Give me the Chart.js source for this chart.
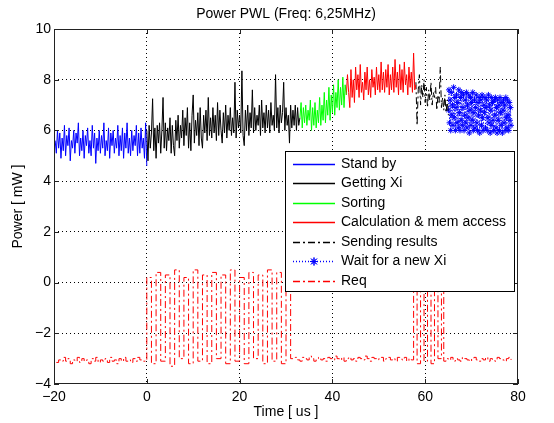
<!DOCTYPE html>
<html>
<head>
<meta charset="utf-8">
<script src="https://cdn.jsdelivr.net/npm/chart.js@4.4.1/dist/chart.umd.min.js"></script>
<style>
html, body { margin: 0; padding: 0; background: #fff; }
</style>
</head>
<body>
<canvas id="c" width="554" height="423"></canvas>
<script>
// les données
var titre = 'Power PWL (Freq: 6,25MHz)';
var labels = ['Stand by', 'Getting Xi', 'Sorting', 'Calculation & mem access', 'Sending results', 'Wait for a new Xi', 'Req'];
var xTicks = [-20, 0, 20, 40, 60, 80];
var yTicks = [-4, -2, 0, 2, 4, 6, 8, 10];

// stand by : -19.75 .. 0, pas 0.25
var standbyT0 = -19.75, standbyDt = 0.25;
var standby = [5.6, 5.1, 6.0, 5.3, 5.9, 4.9, 5.7, 5.2, 6.2, 5.0,
               5.8, 5.4, 6.1, 4.8, 5.6, 5.3, 6.0, 5.1, 5.9, 5.5,
               6.3, 5.0, 5.7, 5.2, 6.0, 4.9, 5.8, 5.4, 6.1, 5.1,
               5.6, 5.0, 6.2, 5.3, 5.9, 4.7, 5.7, 5.2, 6.0, 5.1,
               5.8, 5.3, 6.3, 5.0, 5.6, 5.2, 6.1, 4.9, 5.9, 5.4,
               6.0, 5.1, 5.7, 5.3, 6.2, 5.0, 5.8, 5.2, 6.1, 4.9,
               5.9, 5.3, 6.3, 5.1, 5.7, 5.0, 6.0, 5.2, 5.8, 5.4,
               6.2, 5.0, 5.9, 5.1, 6.1, 5.3, 5.7, 4.9, 6.3, 4.6];

// getting Xi : 0 .. 33, pas 0.25
var gettingT0 = 0, gettingDt = 0.25;
var getting = [6.0, 4.8, 6.2, 5.3, 5.9, 7.25, 5.2, 6.1,
               4.9, 6.2, 5.5, 6.3, 5.1, 6.0, 7.3, 5.3,
               6.3, 5.2, 6.1, 5.6, 6.5, 5.1, 6.2, 5.4,
               5.0, 6.4, 5.6, 6.6, 5.3, 6.2, 5.7, 6.8,
               5.4, 6.5, 5.8, 6.9, 5.3, 6.3, 5.2, 6.6,
               7.4, 5.5, 6.4, 5.8, 6.7, 5.4, 6.9, 5.7,
               5.3, 6.6, 5.9, 6.8, 5.6, 7.3, 5.8, 6.5,
               5.7, 6.9, 5.9, 6.6, 5.6, 7.1, 5.8, 6.8,
               6.0, 5.5, 6.7, 5.9, 7.0, 5.7, 6.6, 6.0,
               6.9, 5.8, 6.5, 5.9, 7.9, 5.7, 6.8, 6.1,
               6.6, 5.9, 8.35, 5.8, 5.4, 6.8, 6.0, 7.0,
               5.8, 6.7, 6.1, 7.6, 5.9, 6.9, 6.0, 6.6,
               6.2, 7.0, 5.8, 7.2, 6.1, 6.7, 5.9, 7.0,
               6.1, 6.8, 5.9, 7.1, 6.2, 6.6, 6.0, 8.2,
               6.1, 6.9, 5.9, 7.0, 6.3, 6.7, 7.9, 6.0,
               6.9, 6.2, 6.6, 5.5, 7.0, 6.1, 6.8, 6.2,
               7.0, 6.0, 6.9, 6.2, 6.5];

// sorting : 33 .. 43, pas 0.25
var sortingT0 = 33, sortingDt = 0.25;
var sorting = [6.5, 7.1, 6.1, 6.9, 6.3, 7.0, 6.2, 6.8,
               6.4, 7.2, 6.0, 6.9, 6.2, 7.1, 6.1, 6.8,
               6.3, 7.3, 6.2, 7.0, 6.4, 7.5, 6.3, 7.2,
               6.6, 7.7, 6.4, 7.4, 6.7, 7.8, 6.6, 7.5,
               6.9, 8.0, 6.8, 7.7, 7.0, 8.1, 6.9, 7.8,
               7.4];

// calculation & mem access : 43 .. 58, pas 0.25
var calcT0 = 43, calcDt = 0.25;
var calc = [7.4, 8.2, 7.5, 6.9, 8.4, 7.3, 8.0, 7.1,
            8.5, 7.6, 8.2, 7.3, 8.6, 7.5, 7.9, 7.2,
            8.3, 7.6, 8.5, 7.4, 8.0, 7.3, 8.4, 7.7,
            8.1, 7.4, 8.5, 7.6, 8.2, 7.5, 8.7, 7.6,
            8.3, 7.5, 8.4, 7.7, 8.6, 7.4, 8.2, 7.6,
            8.5, 7.5, 8.8, 7.7, 8.3, 7.4, 8.6, 7.6,
            8.4, 7.5, 8.7, 7.8, 8.2, 7.4, 8.5, 7.7,
            8.3, 7.5, 9.05, 7.6, 7.8];

// sending results : 58 .. 65, pas 0.25
var sendingT0 = 58, sendingDt = 0.25;
var sending = [7.9, 6.2, 7.6, 8.2, 7.0, 7.8, 7.3, 8.0,
               7.1, 7.7, 6.9, 7.6, 7.2, 7.9, 7.0, 7.5,
               7.3, 7.7, 6.8, 7.4, 7.1, 8.5, 6.9, 7.3,
               6.8, 7.4, 6.7, 7.2, 6.6];

// wait for a new Xi : 65 .. 78.5, pas 0.125
var waitT0 = 65, waitDt = 0.125;
var wait = [6.8, 7.6, 6.3, 7.2, 6.0, 7.5, 6.6, 7.0,
            6.2, 7.7, 6.5, 7.3, 6.0, 6.9, 7.4, 6.3,
            7.1, 6.1, 7.6, 6.7, 6.0, 7.3, 6.4, 7.5,
            6.2, 6.9, 7.4, 6.0, 6.6, 7.2, 6.3, 7.5,
            6.1, 7.0, 6.5, 7.4, 5.9, 6.8, 7.3, 6.2,
            7.1, 6.4, 7.5, 6.0, 6.7, 7.2, 6.1, 6.9,
            7.4, 6.3, 6.0, 7.1, 6.6, 7.3, 5.9, 6.8,
            7.2, 6.2, 7.4, 6.5, 6.0, 7.0, 6.7, 7.3,
            6.1, 6.9, 7.2, 6.0, 6.5, 7.4, 6.3, 7.0,
            5.9, 6.8, 7.3, 6.2, 7.1, 6.4, 6.0, 7.2,
            6.6, 7.3, 6.1, 6.9, 5.9, 7.2, 6.4, 7.0,
            6.0, 7.3, 6.7, 6.2, 7.1, 5.9, 6.8, 7.2,
            6.3, 7.0, 6.0, 7.3, 6.5, 6.1, 7.2, 6.6,
            6.0, 7.1, 6.4, 6.9, 6.2];

// req (signal en créneaux)
var reqBase1T0 = -19.5, reqBase1Dt = 0.5;
var reqBase1 = [-3.15, -3.05, -3.1, -2.95, -3.1, -3.0, -3.2, -3.05, -3.1, -2.95,
                -3.15, -3.0, -3.1, -3.05, -3.2, -3.0, -3.1, -2.95, -3.15, -3.05,
                -3.1, -3.0, -3.15, -2.95, -3.1, -3.05, -3.2, -3.0, -3.1, -2.95,
                -3.1, -3.05, -3.15, -3.0, -3.1, -2.95, -3.05, -3.1];
var reqBurst1T0 = 0, reqBurst1Dt = 1;
var reqBurst1 = [0.2, -3.2, 0.4, -3.1, 0.3, -3.3, 0.5, -3.0, 0.2, -3.2, 0.5, -3.1, 0.3, -3.2, 0.4, -3.0,
                 0.3, -3.2, 0.5, -3.1, 0.2, -3.2, 0.4, -3.0, 0.3, -3.2, 0.5, -3.1, 0.4, -3.2, 0.3, -3.0];
var reqBase2T0 = 31.5, reqBase2Dt = 0.5;
var reqBase2 = [-3.0, -2.95, -3.05, -3.1, -2.95, -3.0, -3.05, -2.9, -3.0, -3.1,
                -3.0, -2.95, -3.05, -3.0, -3.1, -2.95, -3.0, -3.05, -2.9, -3.0,
                -3.05, -2.95, -3.1, -3.0, -2.95, -3.05, -3.0, -3.1, -2.95, -3.0,
                -3.05, -2.9, -3.0, -3.1, -2.95, -3.0, -3.05, -3.0, -2.95, -3.1,
                -3.0, -2.95, -3.05, -3.0, -3.1, -2.95, -3.0, -3.05, -2.95, -3.1, -3.0, -3.05];
var reqBurst2T0 = 57.5, reqBurst2Dt = 0.75;
var reqBurst2 = [0.3, -3.2, 0.4, -3.1, 0.2, -3.2, 0.3, -3.0, 0.4];
var reqBase3T0 = 64, reqBase3Dt = 0.5;
var reqBase3 = [-3.1, -3.0, -3.05, -2.95, -3.1, -3.0, -3.05, -3.1, -2.95, -3.0,
                -3.05, -3.1, -3.0, -2.95, -3.05, -3.1, -3.0, -3.05, -2.95, -3.1,
                -3.0, -3.05, -3.1, -2.95, -3.0, -3.05, -3.1, -3.0, -2.95, -3.05];

var police = '"Liberation Sans", Arial, Helvetica, sans-serif';
Chart.defaults.font.family = police;
Chart.defaults.font.size = 14;
Chart.defaults.color = '#000';

//les fonctions
function serie (t0, dt, vals) {
    var pts = [];
    for (var i = 0; i < vals.length; i++) {
        pts.push({x: t0 + i * dt, y: vals[i]});
    }
    return pts;
}

function moins (v) {
    return String(v).replace('-', '\u2212');
}

var req = [].concat(
    serie(reqBase1T0, reqBase1Dt, reqBase1),
    serie(reqBurst1T0, reqBurst1Dt, reqBurst1),
    serie(reqBase2T0, reqBase2Dt, reqBase2),
    serie(reqBurst2T0, reqBurst2Dt, reqBurst2),
    serie(reqBase3T0, reqBase3Dt, reqBase3)
);

var pointille = [7, 3, 2, 3];

var datasets = [
    {label: labels[0], data: serie(standbyT0, standbyDt, standby), borderColor: '#0000ff'},
    {label: labels[1], data: serie(gettingT0, gettingDt, getting), borderColor: '#000000'},
    {label: labels[2], data: serie(sortingT0, sortingDt, sorting), borderColor: '#00ff00'},
    {label: labels[3], data: serie(calcT0, calcDt, calc), borderColor: '#ff0000'},
    {label: labels[4], data: serie(sendingT0, sendingDt, sending), borderColor: '#000000', borderDash: pointille},
    {label: labels[5], data: serie(waitT0, waitDt, wait), borderColor: '#0000ff', borderDash: [1, 2],
        pointStyle: 'star', pointRadius: 3, pointBorderColor: '#0000ff', pointBorderWidth: 1},
    {label: labels[6], data: req, borderColor: '#ff0000', borderDash: pointille, stepped: true}
];
datasets.forEach(function (d) {
    d.borderWidth = 1;
    d.fill = false;
    d.tension = 0;
    if (d.pointRadius === undefined) d.pointRadius = 0;
});

// cadre + graduations intérieures + légende (style matlab)
var cadre = {
    id: 'cadre',
    afterDraw: function (chart) {
        var ctx = chart.ctx, a = chart.chartArea;
        var sx = chart.scales.x, sy = chart.scales.y;
        ctx.save();
        ctx.strokeStyle = '#222';
        ctx.lineWidth = 1;
        ctx.setLineDash([]);
        ctx.strokeRect(a.left + 0.5, a.top + 0.5, a.right - a.left - 1, a.bottom - a.top - 1);
        ctx.beginPath();
        xTicks.forEach(function (v) {
            var px = Math.round(sx.getPixelForValue(v)) + 0.5;
            ctx.moveTo(px, a.bottom); ctx.lineTo(px, a.bottom - 5);
            ctx.moveTo(px, a.top); ctx.lineTo(px, a.top + 5);
        });
        yTicks.forEach(function (v) {
            var py = Math.round(sy.getPixelForValue(v)) + 0.5;
            ctx.moveTo(a.left, py); ctx.lineTo(a.left + 5, py);
            ctx.moveTo(a.right, py); ctx.lineTo(a.right - 5, py);
        });
        ctx.stroke();

        //légende
        var bx = 285.5, by = 151.5, bw = 229, bh = 140;
        ctx.fillStyle = '#fff';
        ctx.fillRect(bx, by, bw, bh);
        ctx.strokeStyle = '#000';
        ctx.strokeRect(bx, by, bw, bh);
        ctx.font = '14px ' + police;
        ctx.textBaseline = 'middle';
        ctx.textAlign = 'left';
        chart.data.datasets.forEach(function (d, i) {
            var y = Math.round(by + 12 + i * 19.5) + 0.5;
            ctx.strokeStyle = d.borderColor;
            ctx.lineWidth = 1.3;
            ctx.setLineDash(d.borderDash || []);
            ctx.beginPath();
            ctx.moveTo(293, y); ctx.lineTo(335, y);
            ctx.stroke();
            ctx.setLineDash([]);
            ctx.lineWidth = 1;
            if (d.pointStyle) {
                Chart.helpers.drawPoint(ctx, {pointStyle: d.pointStyle, radius: 4, borderWidth: 1}, 314, y);
                ctx.stroke();
            }
            ctx.fillStyle = '#000';
            ctx.fillText(d.label, 341, y);
        });
        ctx.restore();
    }
};

function grille (c) {
    var v = c.tick ? c.tick.value : null;
    return (v === -20 || v === 80 || v === -4 || v === 10) ? 'rgba(0,0,0,0)' : '#000';
}

var chart = new Chart(document.getElementById('c').getContext('2d'), {
    type: 'line',
    data: {datasets: datasets},
    options: {
        responsive: false,
        animation: false,
        events: [],
        layout: {padding: {left: 0, right: 36, top: 0, bottom: 0}},
        plugins: {
            legend: {display: false},
            tooltip: {enabled: false},
            title: {
                display: true,
                text: titre,
                fullSize: false,
                color: '#000',
                font: {size: 14, weight: 'normal'},
                padding: {top: 6, bottom: 6.2}
            }
        },
        scales: {
            x: {
                type: 'linear',
                min: -20,
                max: 80,
                afterFit: function (s) { s.height = 39; },
                afterBuildTicks: function (s) { s.ticks = xTicks.map(function (v) { return {value: v}; }); },
                ticks: {callback: moins, padding: 5, maxRotation: 0, color: '#000'},
                grid: {color: grille, lineWidth: 1, drawTicks: false},
                border: {display: false, dash: [1, 3]},
                title: {display: true, text: 'Time [ us ]', color: '#000', padding: {top: 0, bottom: 2}}
            },
            y: {
                type: 'linear',
                min: -4,
                max: 10,
                afterFit: function (s) { s.width = 54; },
                afterBuildTicks: function (s) { s.ticks = yTicks.map(function (v) { return {value: v}; }); },
                ticks: {callback: moins, padding: 3, color: '#000'},
                grid: {color: grille, lineWidth: 1, drawTicks: false},
                border: {display: false, dash: [1, 3]},
                title: {display: true, text: 'Power [ mW ]', color: '#000', padding: {top: 10, bottom: 0}}
            }
        }
    },
    plugins: [cadre]
});
</script>
</body>
</html>
